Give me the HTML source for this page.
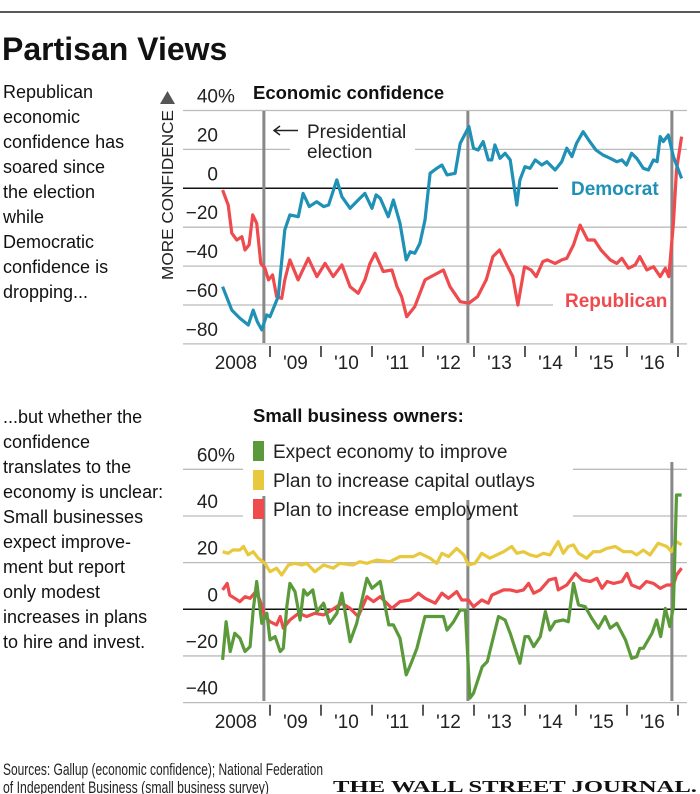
<!DOCTYPE html>
<html><head><meta charset="utf-8"><style>
html,body{margin:0;padding:0;background:#fff;}
svg{display:block;font-family:"Liberation Sans",sans-serif;}
</style></head><body>
<svg id="c" width="700" height="794" viewBox="0 0 700 794" xmlns="http://www.w3.org/2000/svg">
<line x1="0" y1="12" x2="700" y2="12" stroke="#222" stroke-width="1.5"/>
<text x="2" y="60" font-size="32" font-weight="bold" fill="#111">Partisan Views</text>
<g font-size="18" fill="#111">
<text x="3" y="98">Republican</text><text x="3" y="123">economic</text><text x="3" y="148">confidence has</text><text x="3" y="173">soared since</text><text x="3" y="198">the election</text><text x="3" y="223">while</text><text x="3" y="248">Democratic</text><text x="3" y="273">confidence is</text><text x="3" y="298">dropping...</text>
</g>
<g font-size="18" fill="#111">
<text x="3" y="423">...but whether the</text><text x="3" y="448">confidence</text><text x="3" y="473">translates to the</text><text x="3" y="498">economy is unclear:</text><text x="3" y="523">Small businesses</text><text x="3" y="548">expect improve-</text><text x="3" y="573">ment but report</text><text x="3" y="598">only modest</text><text x="3" y="623">increases in plans</text><text x="3" y="648">to hire and invest.</text>
</g>
<g id="topChart"></g>
<g id="botChart"></g>
<g font-size="16.5" fill="#222">
<text x="3" y="775" textLength="320" lengthAdjust="spacingAndGlyphs">Sources: Gallup (economic confidence); National Federation</text>
<text x="3" y="793" textLength="266" lengthAdjust="spacingAndGlyphs">of Independent Business (small business survey)</text>
</g>
<text x="333" y="792" font-family="Liberation Serif,serif" font-size="17" font-weight="bold" fill="#111" textLength="364" lengthAdjust="spacingAndGlyphs">THE WALL STREET JOURNAL.</text>
</svg>
<script>
// years as offset from 2008.0
const demYears=[0.07,0.25,0.41,0.575,0.67,0.75,0.84,0.935,1.0,1.16,1.29,1.39,1.555,1.65,1.77,1.915,2.05,2.15,2.31,2.41,2.57,2.73,2.86,3.0,3.08,3.16,3.32,3.42,3.55,3.67,3.75,3.84,3.94,4.04,4.14,4.27,4.37,4.47,4.63,4.73,4.9,4.99,5.08,5.18,5.28,5.35,5.41,5.51,5.61,5.71,5.84,5.9,6.0,6.1,6.2,6.33,6.43,6.59,6.72,6.82,6.92,7.01,7.14,7.27,7.39,7.53,7.67,7.8,7.9,7.99,8.09,8.19,8.32,8.42,8.52,8.59,8.65,8.71,8.81,8.91,9.07];
const demValues=[-50.6,-62.6,-66.8,-70.3,-62.6,-68.6,-72.8,-65.1,-66,-55.7,-21.4,-13.7,-14.6,-2.6,-9.4,-6.9,-9.4,-8.6,4.3,-4.3,-10.3,-6,-2.6,-10.3,-3.4,-5.1,-14.6,-6,-18,-36.8,-32.6,-33.4,-28.3,-16.3,7.7,10.3,12,6.9,7.7,23.1,31.7,20.6,19.7,24,14.6,14.6,22.3,15.4,18,14.6,-8.6,4.3,11.1,10.3,14.6,12,13.7,9.4,13.7,20.6,16.3,23.1,29.1,24,19.7,17.1,15.4,13.7,14.6,12,18,15.4,10.3,9.4,14.6,13.7,26.6,24,27.4,16.3,5.1];
const repYears=[0.07,0.18,0.25,0.35,0.45,0.51,0.59,0.66,0.74,0.82,0.9,0.97,1.05,1.13,1.23,1.29,1.39,1.55,1.75,1.92,2.08,2.24,2.41,2.57,2.73,2.86,2.96,3.06,3.22,3.39,3.49,3.58,3.68,3.84,4.04,4.4,4.53,4.73,4.9,5.07,5.24,5.37,5.5,5.66,5.76,5.86,5.99,6.12,6.22,6.35,6.44,6.59,6.72,6.82,6.95,7.08,7.23,7.36,7.49,7.67,7.8,7.9,8.03,8.16,8.25,8.39,8.52,8.65,8.75,8.82,8.91,8.97,9.07];
const repValues=[-0.9,-8.6,-23.1,-26.6,-24.9,-31.7,-29.1,-13.7,-18,-38.6,-41.1,-47.1,-44.6,-55.7,-56.6,-47.1,-36.8,-47.1,-36,-45.4,-38.6,-45.4,-39.4,-50.6,-54,-47.1,-38.6,-33.4,-42.8,-42,-50.6,-55.7,-66,-60.8,-47.1,-42,-50.6,-58.3,-59.1,-55.7,-47.1,-35.1,-31.7,-40.3,-45.4,-60,-40.3,-42,-45.4,-37.7,-36.8,-38.6,-36.8,-36,-29.1,-18.9,-26.6,-26.6,-31.7,-36.8,-38.6,-36,-41.1,-39.4,-35.1,-42,-40.3,-45.4,-41.1,-45.4,-18,9.4,26.6];
const capYears=[0.07,0.18,0.27,0.41,0.48,0.57,0.67,0.77,0.9,1.0,1.13,1.23,1.36,1.49,1.62,1.72,1.88,2.05,2.24,2.37,2.63,2.76,2.9,3.09,3.35,3.55,3.81,3.94,4.14,4.27,4.37,4.5,4.66,4.8,4.89,5.02,5.15,5.31,5.58,5.74,5.84,5.97,6.1,6.23,6.36,6.49,6.65,6.75,6.85,6.95,7.05,7.21,7.34,7.47,7.6,7.77,7.93,8.09,8.19,8.32,8.45,8.61,8.78,8.87,8.97,9.07];
const capValues=[24.7,24,25.4,25.4,26.9,23.3,24.7,21.9,19.7,16.1,17.6,14.7,19,19.7,19,19.7,16.1,19,17.6,19.7,19,20.4,19.7,21.1,20.4,22.6,22.6,24,21.9,19.7,24,22.6,26.1,23.3,19,19.7,24,21.9,24.7,26.9,24,24.7,23.3,22.6,24,23.3,29,24,26.9,27.6,24,21.9,24.7,24.7,26.1,26.9,24.7,24.7,23.3,25.4,23.3,28.3,26.9,24.7,29,27.6];
const empYears=[0.07,0.16,0.21,0.31,0.41,0.51,0.61,0.72,0.8,0.9,1.0,1.13,1.2,1.26,1.39,1.56,1.72,1.88,2.05,2.21,2.41,2.57,2.73,2.9,3.03,3.16,3.39,3.55,3.75,3.91,4.04,4.24,4.37,4.5,4.66,4.76,4.89,4.99,5.15,5.28,5.35,5.58,5.71,5.84,5.97,6.07,6.17,6.3,6.47,6.6,6.65,6.82,6.99,7.12,7.28,7.41,7.51,7.61,7.74,7.9,8.0,8.09,8.25,8.38,8.52,8.65,8.78,8.91,8.97,9.07];
const empValues=[8.3,11.1,6.1,4.7,3.3,5.4,4.7,7.6,4,-3.1,-5.3,-6.7,-3.1,-8.1,-4.6,-1.7,-3.1,-1.7,-2.4,-0.3,2.6,0.4,-3.1,5.4,3.3,5.4,0.4,3.3,4,6.9,4.7,2.6,6.9,4.7,7.6,4,4,1.1,4,2.6,6.1,8.3,8.3,7.6,8.3,11.1,6.9,8.3,12.6,13.3,8.3,10.4,15.4,12.6,11.9,13.3,9,11.9,11.1,11.9,15.4,10.4,9,11.9,11.1,9,10.4,10.4,14.7,17.6];
const expYears=[0.07,0.14,0.22,0.31,0.41,0.51,0.61,0.67,0.74,0.84,0.94,1.0,1.1,1.2,1.26,1.33,1.39,1.49,1.59,1.66,1.73,1.84,1.92,2.05,2.17,2.31,2.41,2.57,2.7,2.9,3.0,3.16,3.33,3.42,3.55,3.67,3.78,3.88,4.04,4.27,4.4,4.47,4.6,4.73,4.83,4.92,4.99,5.16,5.26,5.48,5.61,5.71,5.9,6.0,6.07,6.17,6.3,6.4,6.49,6.59,6.75,6.85,6.95,7.05,7.18,7.31,7.44,7.57,7.67,7.8,7.97,8.09,8.19,8.25,8.32,8.49,8.58,8.66,8.75,8.84,8.91,8.97,9.07];
const expValues=[-21.7,-5.3,-18.1,-10.3,-12.4,-18.1,-16,-0.3,11.9,-6,-1.7,-13.1,-11.7,-18.1,-16.7,1.1,11.1,7.6,-4.6,8.3,6.1,8.3,-1,2.6,-6,-1.7,6.9,-13.9,-6,13.3,9,11.9,-6.7,-6.7,-12.4,-28.1,-22.4,-16.7,-3.1,-3.1,-3.1,-8.9,-5.3,-0.3,-0.3,-38.1,-36,-24.6,-22.4,-3.1,-4.6,-10.3,-23.1,-11.7,-11.7,-16,-11.7,-1,-8.9,-5.3,-4.6,-5.3,11.1,1.9,1.1,-3.9,-8.1,-3.1,-8.1,-6,-13.1,-21,-20.3,-16.7,-16.7,-10.3,-4.6,-11.7,0.4,-7.4,1.1,49,49];
const topTicks=[40,20,0,-20,-40,-60,-80];
const botTicks=[60,40,20,0,-20,-40];
const yearLabels=["2008","'09","'10","'11","'12","'13","'14","'15","'16"];
const electionYears=[0.88,4.88,8.88];

const NS="http://www.w3.org/2000/svg";
function mk(p,tag,attrs,txt){const e=document.createElementNS(NS,tag);for(const k in attrs)e.setAttribute(k,attrs[k]);if(txt!=null)e.textContent=txt;p.appendChild(e);return e;}
const X=y=>219+y*51;
const Yt=v=>188.3-v*1.945;
const Yb=v=>609.3-v*2.333;
const gTop=document.getElementById('topChart'),gBot=document.getElementById('botChart');

function grid(g,ticks,Y,masks){
  ticks.forEach(t=>{
    const segs=(masks[t]||[[183,687]]);
    segs.forEach(s=>{const l=mk(g,'line',{x1:s[0],x2:s[1],y1:Y(t),y2:Y(t),stroke:t===0?'#111':'#bbb','stroke-width':t===0?1.5:1.3});
      
      });
    const lab=mk(g,'text',{x:218,y:Y(t)-8,'text-anchor':'end','font-size':19,fill:'#222'},String(t).replace('-','\u2212'));
    
    
    if(t===ticks[0]){const p=mk(g,'text',{x:218,y:Y(t)-8,'font-size':19,fill:'#222'},'%');
      
      }
  });
}
function xaxis(g,y0,ly){
  for(let i=1;i<=9;i++){const t=mk(g,'line',{x1:X(i),x2:X(i),y1:y0+2,y2:y0+13,stroke:'#222','stroke-width':1.5});
    
    }
  yearLabels.forEach((s,i)=>{const t=mk(g,'text',{x:i===0?257:X(i+0.5),y:ly,'text-anchor':i===0?'end':'middle','font-size':19,fill:'#222'},s);
    
    });
}
function series(g,xs,vs,Y,color,name){
  const d=xs.map((x,i)=>(i?'L':'M')+X(x).toFixed(1)+','+Y(vs[i]).toFixed(1)).join('');
  const p=mk(g,'path',{d:d,fill:'none',stroke:color,'stroke-width':3.2,'stroke-linejoin':'round'});
  
  
}
// top chart
grid(gTop,topTicks,Yt,{20:[[183,290],[415,687]],0:[[183,558]],'-60':[[183,553]]});
const tt=mk(gTop,'text',{x:253,y:99,'font-size':18.5,'font-weight':'bold',fill:'#111'},'Economic confidence');


const tri=mk(gTop,'path',{d:'M160,104 L175,104 L167.5,91 Z',fill:'#555'});


const mc=mk(gTop,'text',{x:0,y:0,transform:'translate(173,280) rotate(-90)','font-size':15.5,fill:'#222',textLength:170,lengthAdjust:'spacingAndGlyphs'},'MORE CONFIDENCE');


electionYears.forEach(e=>{const l=mk(gTop,'line',{x1:X(e),x2:X(e),y1:111,y2:343,stroke:'#888','stroke-width':3});
  
  });
const ar=mk(gTop,'path',{d:'M298,130.5 H274 M280,126 L274,130.5 L280,135',stroke:'#222','stroke-width':1.5,fill:'none'});


const an1=mk(gTop,'text',{x:307,y:138,'font-size':19,fill:'#222'},'Presidential');


const an2=mk(gTop,'text',{x:307,y:158,'font-size':19,fill:'#222'},'election');


series(gTop,repYears,repValues,Yt,'#ef4a4d','republican-line');
series(gTop,demYears,demValues,Yt,'#1f90b6','democrat-line');
const dl=mk(gTop,'text',{x:571,y:195,'font-size':19,'font-weight':'bold',fill:'#1f90b6'},'Democrat');


const rl=mk(gTop,'text',{x:565,y:307,'font-size':19,'font-weight':'bold',fill:'#ef4a4d'},'Republican');


xaxis(gTop,344,369);

// bottom chart
grid(gBot,botTicks,Yb,{60:[[183,243],[573,687]],40:[[183,243],[573,687]]});
const bt=mk(gBot,'text',{x:253,y:422,'font-size':18.5,'font-weight':'bold',fill:'#111'},'Small business owners:');


[[0.88,496],[4.88,500],[8.88,462]].forEach(e=>{const l=mk(gBot,'line',{x1:X(e[0]),x2:X(e[0]),y1:e[1],y2:701,stroke:'#888','stroke-width':3});
  
  });
const legend=[['#5a9a3a','Expect economy to improve',441],['#e8c83c','Plan to increase capital outlays',470],['#ef4a4d','Plan to increase employment',499]];
legend.forEach(l=>{
  const r=mk(gBot,'rect',{x:253,y:l[2],width:11,height:20,fill:l[0]});
  
  
  const t=mk(gBot,'text',{x:273,y:l[2]+17,'font-size':19,fill:'#222'},l[1]);
  
  
});
series(gBot,capYears,capValues,Yb,'#e8c83c','capital-outlays-line');
series(gBot,empYears,empValues,Yb,'#ef4a4d','employment-line');
series(gBot,expYears,expValues,Yb,'#5a9a3a','expect-improve-line');
xaxis(gBot,702.7,728);
</script>
</body></html>
